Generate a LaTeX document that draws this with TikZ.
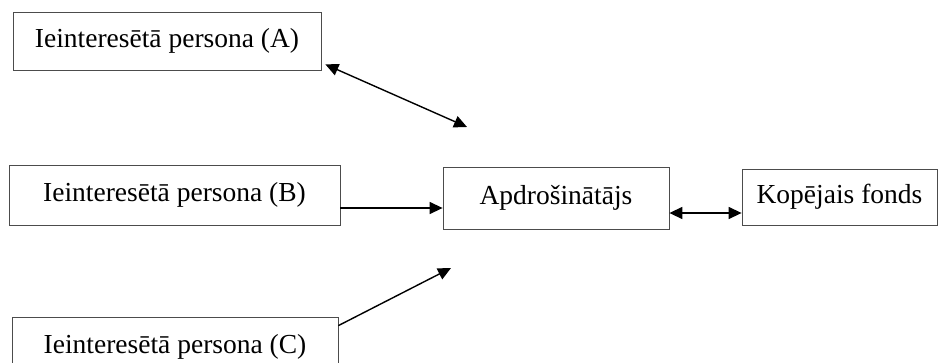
\documentclass[tikz,border=0pt]{standalone}
\usepackage{fontspec}
\setmainfont{Liberation Serif}
\usepackage{tikz}
\usetikzlibrary{positioning, shapes}
\usetikzlibrary{arrows.meta}

\begin{document}
\begin{tikzpicture}[x=1pt,y=-1pt]
        \tikzset{box/.style = {draw=gray!60!black, line width=0.8pt, inner sep=0pt, font=\fontsize{27.5}{33}\selectfont}}
        \tikzset{arr/.style = {line width=1.4pt, -{Triangle[length=13pt,width=12pt]}}}
        \tikzset{biarr/.style = {line width=1.4pt, {Triangle[length=13pt,width=12pt]}-{Triangle[length=13pt,width=12pt]}}}

        \clip (0,0) rectangle (938,362);

        \node[box, minimum width=308pt, minimum height=58pt] (pA) at (167,41) {Ieinteresētā persona (A)};
        \node[box, minimum width=331pt, minimum height=60pt] (pB) at (174.5,195) {Ieinteresētā persona (B)};
        \node[box, minimum width=326pt, minimum height=60pt] (pC) at (175,347) {Ieinteresētā persona (C)};

        \node[box, minimum width=226pt, minimum height=62pt] (ins) at (556,198) {Apdrošinātājs};
        \node[box, minimum width=195pt, minimum height=56pt] (fund) at (839.5,197) {Kopējais fonds};

        \coordinate (a2) at (467,127);
        \coordinate (c2) at (451,268);

        \draw[biarr] ([xshift=4pt,yshift=6pt]pA.south east) -- (a2);
        \draw[arr] ([yshift=-13pt]pB.east) -- ([yshift=-13pt]pB.east -| ins.west);
        \draw[arr] ([yshift=-9pt]pC.north east) -- (c2);
        \draw[biarr] ([yshift=-15pt]ins.east) -- ([yshift=-15pt]ins.east -| fund.west);

        \end{tikzpicture}
\end{document}
